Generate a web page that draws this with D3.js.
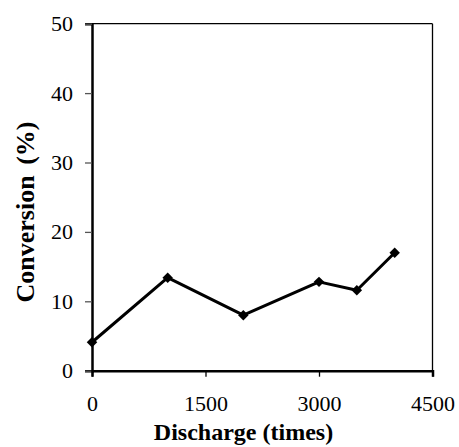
<!DOCTYPE html>
<html>
<head>
<meta charset="utf-8">
<script src="https://cdn.jsdelivr.net/npm/d3@7"></script>
<style>
  body { margin: 0; background: #fff; }
  text { font-family: "Liberation Serif", "Times New Roman", serif; }
</style>
</head>
<body>
<svg id="chart"></svg>
<script>
var discharge = [0, 1000, 2000, 3000, 3500, 4000];
var conversion = [4.1, 13.4, 8.0, 12.8, 11.6, 17.0];
var xTicks = [0, 1500, 3000, 4500];
var yTicks = [0, 10, 20, 30, 40, 50];

var svgWidth = 459, svgHeight = 447;
var margin = { top: 23.7, right: 26.5, bottom: 76.3, left: 92 };
var width = svgWidth - margin.left - margin.right;
var height = svgHeight - margin.top - margin.bottom;

var svg = d3.select("#chart")
  .attr("width", svgWidth)
  .attr("height", svgHeight);

var g = svg.append("g")
  .attr("transform", "translate(" + margin.left + "," + margin.top + ")");

var x = d3.scaleLinear().domain([0, 4500]).range([0, width]);
var y = d3.scaleLinear().domain([0, 50]).range([height, 0]);

// top and right frame
g.append("line")
  .attr("x1", 0).attr("x2", width)
  .attr("y1", 0).attr("y2", 0)
  .attr("stroke", "#000").attr("stroke-width", 1.3);
g.append("line")
  .attr("x1", width).attr("x2", width)
  .attr("y1", 0).attr("y2", height)
  .attr("stroke", "#000").attr("stroke-width", 1.3);

// y axis
var yAxis = g.append("g")
  .call(d3.axisLeft(y).tickValues(yTicks).tickSize(7).tickPadding(12).tickFormat(d3.format("d")));
yAxis.select(".domain").attr("stroke", "#000").attr("stroke-width", 2.5);
yAxis.selectAll(".tick line").attr("stroke", "#555").attr("stroke-width", 1.3);
yAxis.selectAll(".tick text")
  .attr("font-size", 22).attr("fill", "#000")
  .style("font-family", "'Liberation Serif', serif");

// x axis
var xAxis = g.append("g")
  .attr("transform", "translate(0," + height + ")")
  .call(d3.axisBottom(x).tickValues(xTicks).tickSize(6).tickPadding(20).tickFormat(d3.format("d")));
xAxis.select(".domain").attr("stroke", "#000").attr("stroke-width", 2.5);
xAxis.selectAll(".tick line").attr("stroke", "#000").attr("stroke-width", 1.3);
xAxis.selectAll(".tick text")
  .attr("font-size", 22).attr("fill", "#000")
  .attr("dy", "0.65em")
  .style("font-family", "'Liberation Serif', serif");

// axis titles
svg.append("text")
  .attr("x", 243.5)
  .attr("y", 440)
  .attr("text-anchor", "middle")
  .attr("font-size", 24)
  .attr("font-weight", "bold")
  .text("Discharge (times)");

svg.append("text")
  .attr("transform", "translate(34,212) rotate(-90)")
  .attr("text-anchor", "middle")
  .attr("font-size", 26)
  .attr("font-weight", "bold")
  .attr("word-spacing", 4)
  .text("Conversion (%)");

// data line
var data = discharge.map(function(d, i) { return { x: d, y: conversion[i] }; });

var line = d3.line()
  .x(function(d) { return x(d.x); })
  .y(function(d) { return y(d.y); });

g.append("path")
  .datum(data)
  .attr("fill", "none")
  .attr("stroke", "#000")
  .attr("stroke-width", 3)
  .attr("stroke-linejoin", "round")
  .attr("d", line);

g.selectAll(".pt")
  .data(data)
  .enter().append("path")
  .attr("class", "pt")
  .attr("transform", function(d) { return "translate(" + x(d.x) + "," + y(d.y) + ")"; })
  .attr("d", d3.symbol().type(d3.symbolDiamond2).size(70))
  .attr("fill", "#000");
</script>
</body>
</html>
